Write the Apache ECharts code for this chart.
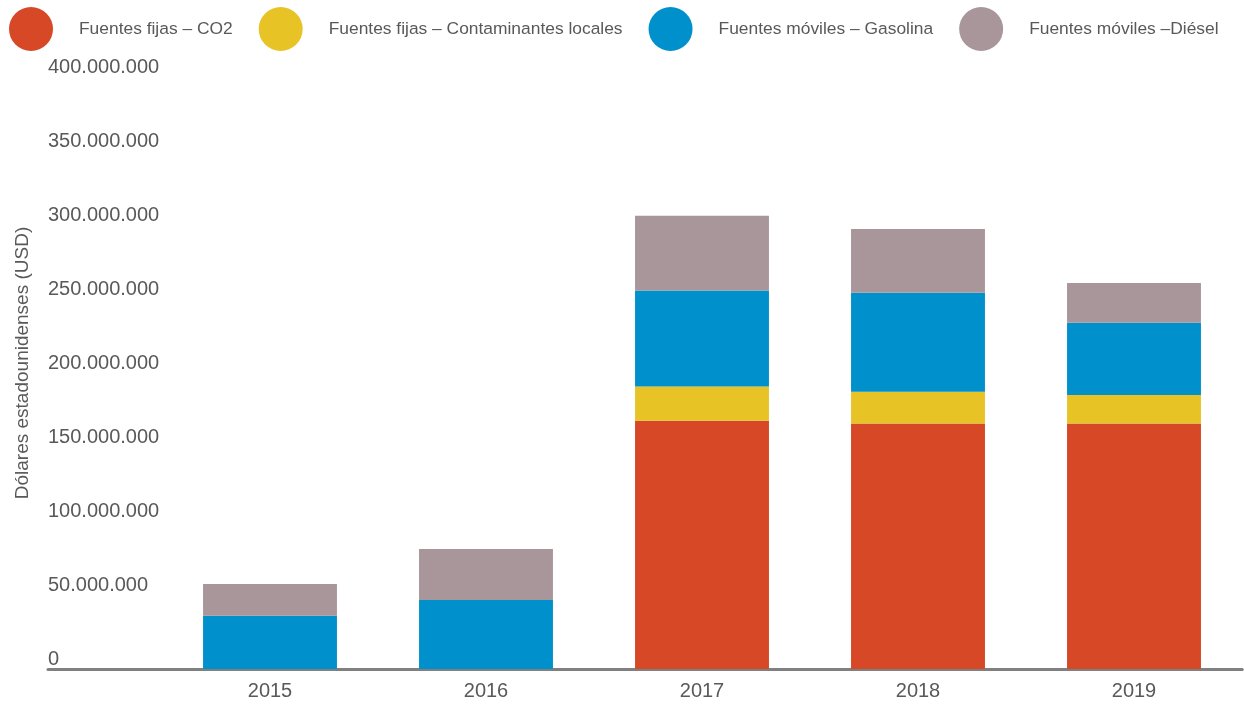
<!DOCTYPE html>
<html>
<head>
<meta charset="utf-8">
<script src="https://cdn.jsdelivr.net/npm/echarts@6/dist/echarts.min.js"></script>
<style>
html,body{margin:0;padding:0;background:#fff;}
#chart{width:1244px;height:704px;}
</style>
</head>
<body>
<div id="chart"></div>
<script>
const categories = ['2015', '2016', '2017', '2018', '2019'];
const seriesNames = ['Fuentes fijas – CO2', 'Fuentes fijas – Contaminantes locales', 'Fuentes móviles – Gasolina', 'Fuentes móviles –Diésel'];
const fijasCO2 = [0, 0, 167800000, 165800000, 165800000];
const fijasLocales = [0, 0, 23000000, 21600000, 19300000];
const movilesGasolina = [36000000, 46600000, 64900000, 66900000, 48900000];
const movilesDiesel = [21400000, 34500000, 50500000, 43000000, 26800000];
const yTicks = { min: 0, max: 400000000, interval: 50000000 };
const yTitle = 'Dólares estadounidenses (USD)';

const colors = ['#D64826', '#E8C326', '#0091CD', '#A8969A'];
const textColor = '#595959';
const font = 'Liberation Sans';

function fmt(v) {
  return String(v).replace(/\B(?=(\d{3})+(?!\d))/g, '.');
}

const chart = echarts.init(document.getElementById('chart'));
const seriesData = [fijasCO2, fijasLocales, movilesGasolina, movilesDiesel];

chart.setOption({
  animation: false,
  textStyle: { fontFamily: font },
  legend: {
    left: 9, top: 7, width: 1235, padding: 0,
    itemWidth: 44, itemHeight: 44, itemGap: 26,
    icon: 'circle',
    data: seriesNames,
    textStyle: { fontSize: 17.4, color: textColor, fontFamily: font, padding: [0, 0, 0, 21] }
  },
  grid: [
    { left: 162, right: 2, top: 77, bottom: 35 },
    { left: 48, right: 2, top: 77, bottom: 35 }
  ],
  xAxis: [
    {
      type: 'category', gridIndex: 0, data: categories,
      axisLine: { show: true, lineStyle: { color: '#808080', width: 3 } },
      axisTick: { show: false },
      axisLabel: { fontSize: 20, color: textColor, margin: 12 }
    },
    {
      type: 'value', gridIndex: 1, min: 0, max: 1,
      axisLine: { show: true, onZero: false, lineStyle: { color: '#808080', width: 3 } },
      axisTick: { show: false }, axisLabel: { show: false }, splitLine: { show: false }
    }
  ],
  yAxis: [
    {
      type: 'value', gridIndex: 0,
      min: yTicks.min, max: yTicks.max, interval: yTicks.interval,
      axisLine: { show: false }, axisTick: { show: false },
      splitLine: { show: false },
      axisLabel: {
        fontSize: 20, color: textColor, align: 'left', verticalAlign: 'bottom',
        margin: 114, formatter: fmt
      },
      name: yTitle, nameLocation: 'middle', nameGap: 130, nameRotate: 90,
      nameTextStyle: { fontSize: 19, color: textColor, fontFamily: font, padding: [0, 0, 0, 20] }
    },
    {
      type: 'value', gridIndex: 1, min: 0, max: 1, show: false
    }
  ],
  series: seriesNames.map((name, i) => ({
    name: name,
    type: 'bar',
    stack: 'total',
    xAxisIndex: 0, yAxisIndex: 0,
    barWidth: '62%',
    itemStyle: { color: colors[i] },
    data: seriesData[i]
  }))
});
</script>
</body>
</html>
